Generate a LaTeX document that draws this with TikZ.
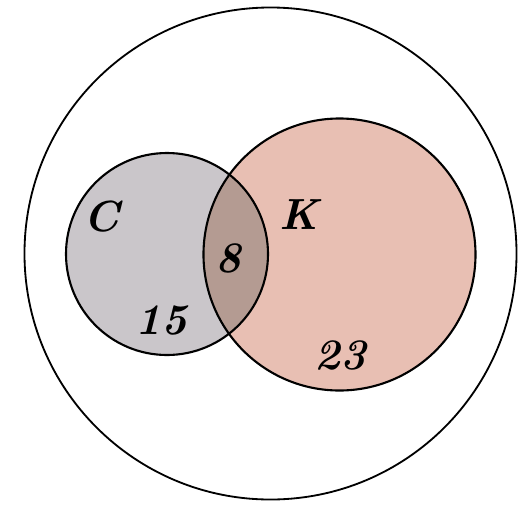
\documentclass[tikz,border=0pt]{standalone}
\usepackage{xcolor}
\usepackage{tikz}
\usetikzlibrary{positioning}

\definecolor{cgray}{HTML}{CAC6CA}
\definecolor{kpink}{HTML}{E8BFB3}
\definecolor{ckbrown}{HTML}{B49B92}

\begin{document}
\begin{tikzpicture}[
		x=0.25mm, y=-0.25mm,
		set/.style={
			circle,
			draw,
			line width=1.5pt,
			inner sep=0pt
		},
		num/.style={
			font=\fontsize{31}{36}\selectfont\bfseries\itshape
		}
		]
		\useasboundingbox (0,0) rectangle (524,504);
		\node[set, line width=1.3pt, minimum size=123mm] (U) at (270.5,253.5) {};
		\fill[cgray] (167,254) circle (101);
		\fill[kpink] (339.5,254.5) circle (136);
		\begin{scope}
			\clip (167,254) circle (101);
			\fill[ckbrown] (339.5,254.5) circle (136);
		\end{scope}
		\node[set, minimum size=50.5mm] (C) at (167,254) {};
		\node[set, minimum size=68mm] (K) at (339.5,254.5) {};
		
		\node[num] (labC) at (102,217) {C};
		\node[num] (labK) at (299,215) {K};
		\node[num] (nCK) at (228,258) {8};
		\node[num] (nC) at (161,320) {15};
		\node[num] (nK) at (340,355) {23};
	\end{tikzpicture}
\end{document}
